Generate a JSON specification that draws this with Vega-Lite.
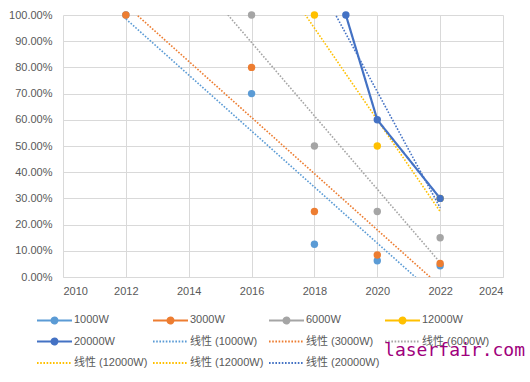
{
  "$schema": "https://vega.github.io/schema/vega-lite/v6.json",
  "width": 440,
  "height": 262,
  "autosize": {"type": "none"},
  "padding": {"left": 63, "top": 15, "right": 27, "bottom": 105},
  "background": "white",
  "config": {
    "view": {"stroke": null},
    "font": "Liberation Sans",
    "axis": {
      "labelFont": "Liberation Sans",
      "labelFontSize": 11,
      "labelColor": "#595959",
      "gridColor": "#D9D9D9",
      "gridWidth": 1,
      "ticks": false,
      "title": null
    },
    "legend": {
      "orient": "none",
      "legendX": -27,
      "legendY": 297,
      "direction": "horizontal",
      "columns": 4,
      "gridAlign": "all",
      "columnPadding": 1,
      "rowPadding": 5.5,
      "symbolSize": 196,
      "symbolStrokeWidth": 2,
      "symbolOpacity": 1,
      "labelOffset": 22,
      "labelFont": "Liberation Sans, Noto Sans CJK SC",
      "labelFontSize": 11,
      "labelColor": "#595959",
      "labelLimit": 200
    }
  },
  "title": {
    "text": "laserfair.com",
    "orient": "bottom",
    "anchor": "end",
    "baseline": "top",
    "font": "DejaVu Sans Mono",
    "fontSize": 18,
    "fontWeight": "normal",
    "color": "#A0007C",
    "offset": 0,
    "dy": -26,
    "dx": 22
  },
  "datasets": {
    "pts": [
      {"key": "1000W", "year": 2012, "share": 1.0},
      {"key": "1000W", "year": 2016, "share": 0.70},
      {"key": "1000W", "year": 2018, "share": 0.125},
      {"key": "1000W", "year": 2020, "share": 0.062},
      {"key": "1000W", "year": 2022, "share": 0.043},
      {"key": "3000W", "year": 2012, "share": 1.0},
      {"key": "3000W", "year": 2016, "share": 0.80},
      {"key": "3000W", "year": 2018, "share": 0.25},
      {"key": "3000W", "year": 2020, "share": 0.084},
      {"key": "3000W", "year": 2022, "share": 0.052},
      {"key": "6000W", "year": 2016, "share": 1.0},
      {"key": "6000W", "year": 2018, "share": 0.50},
      {"key": "6000W", "year": 2020, "share": 0.25},
      {"key": "6000W", "year": 2022, "share": 0.15},
      {"key": "12000W", "year": 2018, "share": 1.0},
      {"key": "12000W", "year": 2020, "share": 0.50},
      {"key": "12000W", "year": 2022, "share": 0.30},
      {"key": "20000W", "year": 2019, "share": 1.0},
      {"key": "20000W", "year": 2020, "share": 0.60},
      {"key": "20000W", "year": 2022, "share": 0.30}
    ],
    "trd": [
      {"key": "线性 (1000W)", "year": 2012, "share": 1.0},
      {"key": "线性 (1000W)", "year": 2016, "share": 0.70},
      {"key": "线性 (1000W)", "year": 2018, "share": 0.125},
      {"key": "线性 (1000W)", "year": 2020, "share": 0.062},
      {"key": "线性 (1000W)", "year": 2022, "share": 0.043},
      {"key": "线性 (3000W)", "year": 2012, "share": 1.0},
      {"key": "线性 (3000W)", "year": 2016, "share": 0.80},
      {"key": "线性 (3000W)", "year": 2018, "share": 0.25},
      {"key": "线性 (3000W)", "year": 2020, "share": 0.084},
      {"key": "线性 (3000W)", "year": 2022, "share": 0.052},
      {"key": "线性 (6000W)", "year": 2016, "share": 1.0},
      {"key": "线性 (6000W)", "year": 2018, "share": 0.50},
      {"key": "线性 (6000W)", "year": 2020, "share": 0.25},
      {"key": "线性 (6000W)", "year": 2022, "share": 0.15},
      {"key": "线性 (12000W)", "year": 2018, "share": 1.0},
      {"key": "线性 (12000W)", "year": 2020, "share": 0.50},
      {"key": "线性 (12000W)", "year": 2022, "share": 0.30},
      {"key": "线性 (20000W)", "year": 2019, "share": 1.0},
      {"key": "线性 (20000W)", "year": 2020, "share": 0.60},
      {"key": "线性 (20000W)", "year": 2022, "share": 0.30}
    ]
  },
  "encoding": {
    "x": {
      "field": "year",
      "type": "quantitative",
      "scale": {"domain": [2010, 2024], "nice": false, "zero": false},
      "axis": {
        "values": [2010, 2012, 2014, 2016, 2018, 2020, 2022, 2024],
        "format": "d",
        "domainColor": "#D9D9D9",
        "labelPadding": 8
      }
    },
    "y": {
      "field": "share",
      "type": "quantitative",
      "scale": {"domain": [0, 1], "nice": false},
      "axis": {
        "values": [0, 0.1, 0.2, 0.3, 0.4, 0.5, 0.6, 0.7, 0.8, 0.9, 1.0],
        "format": ".2%",
        "domain": false,
        "labelPadding": 11
      }
    },
    "color": {
      "field": "key",
      "type": "nominal",
      "scale": {
        "domain": ["1000W", "3000W", "6000W", "12000W", "20000W", "线性 (1000W)", "线性 (3000W)", "线性 (6000W)", "线性 (12000W)", "线性 (12000W) ", "线性 (20000W)"],
        "range": ["#5B9BD5", "#ED7D31", "#A5A5A5", "#FFC000", "#4472C4", "#5B9BD5", "#ED7D31", "#A5A5A5", "#FFC000", "#FFC000", "#4472C4"]
      },
      "legend": {"title": null}
    }
  },
  "layer": [
    {
      "data": {"name": "trd"},
      "transform": [
        {"regression": "share", "on": "year", "groupby": ["key"], "extent": [2012, 2022]}
      ],
      "mark": {"type": "line", "clip": true, "strokeWidth": 1.6},
      "encoding": {
        "strokeDash": {
          "field": "key",
          "type": "nominal",
          "scale": {
            "domain": ["1000W", "3000W", "6000W", "12000W", "20000W", "线性 (1000W)", "线性 (3000W)", "线性 (6000W)", "线性 (12000W)", "线性 (12000W) ", "线性 (20000W)"],
            "range": [[1, 0], [1, 0], [1, 0], [1, 0], [1, 0], [1.6, 1.6], [1.6, 1.6], [1.6, 1.6], [1.6, 1.6], [1.6, 1.6], [1.6, 1.6]]
          },
          "legend": {"title": null}
        }
      }
    },
    {
      "data": {"name": "pts"},
      "transform": [{"filter": {"field": "key", "equal": "20000W"}}],
      "mark": {"type": "line", "strokeWidth": 2.2},
      "encoding": {
        "strokeDash": {"field": "key", "type": "nominal", "legend": {"title": null}}
      }
    },
    {
      "data": {"name": "pts"},
      "mark": {"type": "point", "filled": true, "opacity": 0, "size": 10},
      "encoding": {
        "shape": {
          "field": "key",
          "type": "nominal",
          "scale": {
            "domain": ["1000W", "3000W", "6000W", "12000W", "20000W", "线性 (1000W)", "线性 (3000W)", "线性 (6000W)", "线性 (12000W)", "线性 (12000W) ", "线性 (20000W)"],
            "range": [
              "M-1,0L4,0M1.93,0A0.43,0.43,0,1,1,1.07,0A0.43,0.43,0,1,1,1.93,0",
              "M-1,0L4,0M1.93,0A0.43,0.43,0,1,1,1.07,0A0.43,0.43,0,1,1,1.93,0",
              "M-1,0L4,0M1.93,0A0.43,0.43,0,1,1,1.07,0A0.43,0.43,0,1,1,1.93,0",
              "M-1,0L4,0M1.93,0A0.43,0.43,0,1,1,1.07,0A0.43,0.43,0,1,1,1.93,0",
              "M-1,0L4,0M1.93,0A0.43,0.43,0,1,1,1.07,0A0.43,0.43,0,1,1,1.93,0",
              "M-1,0L4,0", "M-1,0L4,0", "M-1,0L4,0", "M-1,0L4,0", "M-1,0L4,0", "M-1,0L4,0"
            ]
          },
          "legend": {"title": null}
        }
      }
    },
    {
      "data": {"name": "pts"},
      "mark": {"type": "point", "filled": true, "size": 55, "opacity": 1}
    }
  ]
}
